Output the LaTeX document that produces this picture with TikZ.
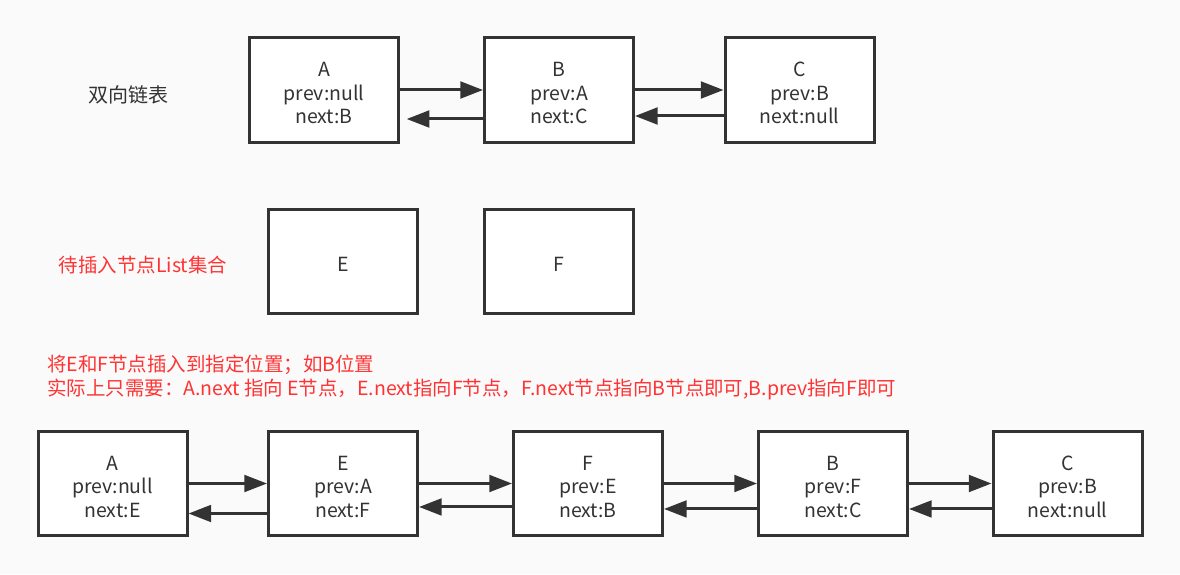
\documentclass[tikz,border=0pt]{standalone}
\usepackage{fontspec}
\setmainfont{Noto Sans CJK SC}
\usetikzlibrary{arrows.meta,positioning}
\definecolor{ink}{HTML}{333333}
\definecolor{redtxt}{HTML}{FF3333}
\definecolor{bg}{HTML}{FAFAFA}
\newcommand{\upstrut}{\rule{0pt}{15.5pt}}
\tikzset{
  listbox/.style={draw=ink, line width=2.25pt, fill=white, text=ink,
    minimum width=111.75pt, minimum height=78.5pt, align=center,
    font=\fontsize{14.6}{17.6}\selectfont, inner sep=0pt},
  link/.style={draw=ink, line width=2.25pt, -{Triangle[length=17pt,width=12.5pt]}},
  plain/.style={text=ink, font=\fontsize{15}{18}\selectfont, inner sep=0pt},
  note/.style={text=redtxt, font=\fontsize{14.6}{18}\selectfont, inner sep=0pt, align=left}
}
\begin{document}
\begin{tikzpicture}[x=0.75pt,y=-0.75pt]
\fill[bg] (0,0) rectangle (1180,574);
\useasboundingbox (0,0) rectangle (1180,574);

% top row
\node[plain] (title) at (128,95) {双向链表};
\node[listbox] (tA) at (324,90) {\upstrut A\\prev:null\\next:B};
\node[listbox] (tB) at (559,90) {\upstrut B\\prev:A\\next:C};
\node[listbox] (tC) at (799.5,90) {\upstrut C\\prev:B\\next:null};
\draw[link] (tA.east) -- (tB.west);
\draw[link, shorten >=5pt] ([yshift=-21.75pt]tB.west) -- ([yshift=-21.75pt]tA.east);
\draw[link] (tC.west -| tB.east) -- (tC.west);
\draw[link] ([yshift=-19.5pt]tC.west) -- ([yshift=-19.5pt]tB.east);

% middle row
\node[note] (pending) at (143,265) {待插入节点List集合};
\node[listbox] (mE) at (343,261.5) {\upstrut E};
\node[listbox] (mF) at (559,261.5) {\upstrut F};

% explanation
\node[note, anchor=west] (expl) at (47,377) {将E和F节点插入到指定位置；如B位置\\实际上只需要：A.next 指向 E节点，E.next指向F节点，F.next节点指向B节点即可,B.prev指向F即可};

% bottom row
\node[listbox] (bA) at (112.5,483.5) {\upstrut A\\prev:null\\next:E};
\node[listbox] (bE) at (343,483.5) {\upstrut E\\prev:A\\next:F};
\node[listbox] (bF) at (588,483.5) {\upstrut F\\prev:E\\next:B};
\node[listbox] (bB) at (833,483.5) {\upstrut B\\prev:F\\next:C};
\node[listbox] (bC) at (1067.5,483.5) {\upstrut C\\prev:B\\next:null};
\draw[link] (bA.east) -- (bE.west);
\draw[link] ([yshift=-22.5pt]bE.west) -- ([yshift=-22.5pt]bA.east);
\draw[link] (bE.east) -- (bF.west);
\draw[link] ([yshift=-17.6pt]bF.west) -- ([yshift=-17.6pt]bE.east);
\draw[link] (bF.east) -- (bB.west);
\draw[link] ([yshift=-19.1pt]bB.west) -- ([yshift=-19.1pt]bF.east);
\draw[link] (bB.east) -- (bC.west);
\draw[link] ([yshift=-19.1pt]bC.west) -- ([yshift=-19.1pt]bB.east);
\end{tikzpicture}
\end{document}
